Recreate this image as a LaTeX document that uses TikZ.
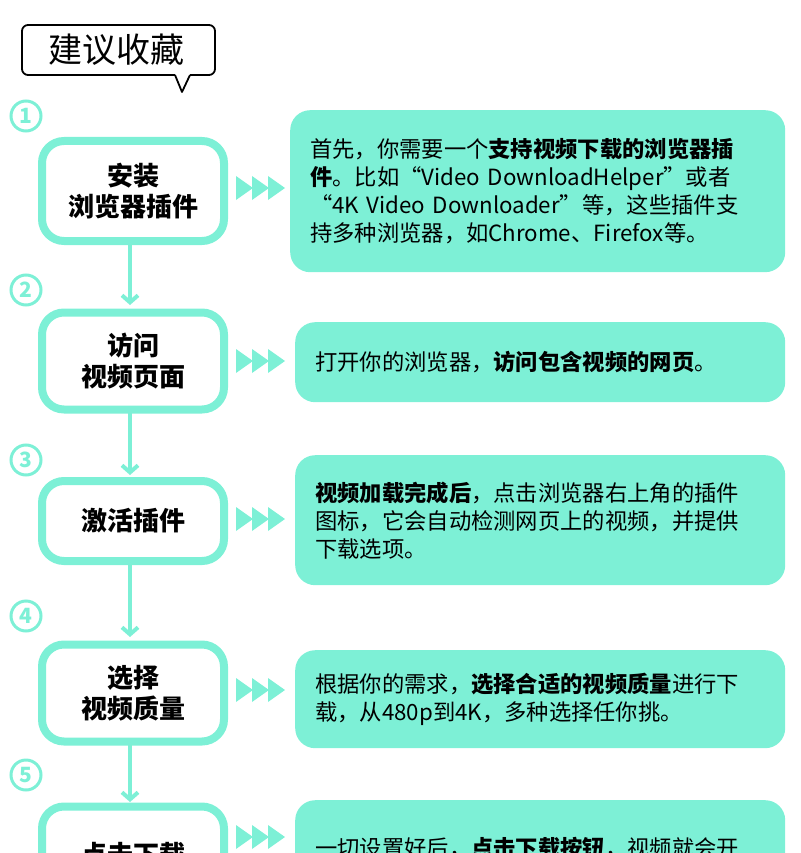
\documentclass[tikz,border=0pt]{standalone}
\usepackage{fontspec}
\setmainfont{Noto Sans CJK SC}
\usetikzlibrary{positioning,calc,arrows.meta}
\definecolor{mint}{HTML}{7DF0D6}
\tikzset{
  stepbox/.style={draw=mint, line width=8pt, fill=white, rounded corners=22pt, align=center,
    font=\fontsize{26}{31}\selectfont\bfseries, minimum width=182pt},
  infobox/.style={fill=mint, rounded corners=20pt, align=left, anchor=north west,
    font=\fontsize{22.3}{28}\selectfont, inner xsep=20pt, text width=455pt},
  numcirc/.style={circle, draw=mint, line width=3pt, text=mint, inner sep=1pt, minimum size=30pt,
    font=\fontsize{21}{21}\selectfont\bfseries},
  flow/.style={draw=mint, line width=4pt, ->, >={Straight Barb[length=7pt,width=16pt]}},
  chev/.style={fill=mint}
}
\newcommand\triple[1]{%
  \foreach \k in {0,16,32}{\fill[chev] ($(#1)+(\k pt,-12pt)$) -- ++(17pt,12pt) -- ++(-17pt,12pt) -- cycle;}}
\begin{document}
\begin{tikzpicture}[x=1pt,y=-1pt]
\useasboundingbox (0,0) rectangle (800,853);
\clip (0,0) rectangle (800,853);

% speech bubble
\draw[line width=1.8pt, rounded corners=6pt] (175,75) -- (22,75) -- (22,25) -- (215,25) -- (215,75) -- (190,75);
\draw[line width=1.8pt, line join=round] (175,75) -- (182,92) -- (190,75);
\node (tag) at (116,50) {\fontsize{34}{34}\selectfont 建议收藏};

% circled numbers
\node[numcirc] (n1) at (26,116) {1};
\node[numcirc] (n2) at (26,290) {2};
\node[numcirc] (n3) at (26,460) {3};
\node[numcirc] (n4) at (26,616) {4};
\node[numcirc] (n5) at (26,775) {5};

% flow line
\draw[flow] (130,245) -- (130,305);
\draw[flow] (130,413) -- (130,475);
\draw[flow] (130,565) -- (130,637);
\draw[flow] (130,745) -- (130,802);

% step boxes
\node[stepbox, minimum height=100pt] (s1) at (133,191) {安装\\浏览器插件};
\node[stepbox, minimum height=97pt] (s2) at (133,361) {访问\\视频页面};
\node[stepbox, minimum height=80pt] (s3) at (133,521) {激活插件};
\node[stepbox, minimum height=97pt] (s4) at (133,693) {选择\\视频质量};
\node[stepbox, minimum height=97pt] (s5) at (133,855) {点击下载};

% info boxes
\node[infobox, text width=455pt, minimum height=162pt] (i1) at (290,110)
  {首先，你需要一个\textbf{支持视频下载的浏览器插}\\\textbf{件}。比如“Video DownloadHelper”或者\\“4K Video Downloader”等，这些插件支\\持多种浏览器，如Chrome、Firefox等。};
\node[infobox, text width=450pt, minimum height=80pt] (i2) at (295,322) {打开你的浏览器，\textbf{访问包含视频的网页}。};
\node[infobox, text width=450pt, minimum height=130pt] (i3) at (295,455)
  {\textbf{视频加载完成后}，点击浏览器右上角的插件\\图标，它会自动检测网页上的视频，并提供\\下载选项。};
\node[infobox, text width=450pt, minimum height=98pt] (i4) at (295,650)
  {根据你的需求，\textbf{选择合适的视频质量}进行下\\载，从480p到4K，多种选择任你挑。};
\node[infobox, text width=450pt, minimum height=130pt] (i5) at (295,800)
  {\vspace{6pt}一切设置好后，\textbf{点击下载按钮}，视频就会开\\始下载。};

% chevrons
\triple{236,188}
\triple{236,361}
\triple{236,519}
\triple{236,690}
\triple{236,837}
\end{tikzpicture}
\end{document}
